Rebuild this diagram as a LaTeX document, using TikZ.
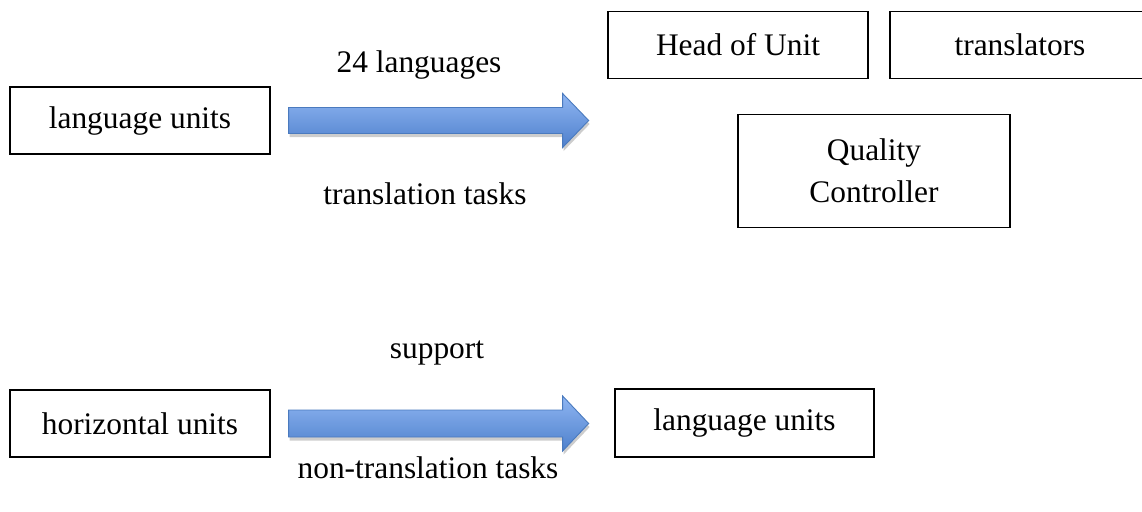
\documentclass[tikz,border=0pt]{standalone}
\usepackage{fontspec}
\setmainfont{Liberation Serif}
\usetikzlibrary{shadows}
\definecolor{arrowtop}{RGB}{143,182,242}
\definecolor{arrowbot}{RGB}{78,128,204}
\definecolor{arrowedge}{RGB}{74,122,190}
\begin{document}
\begin{tikzpicture}[x=1pt,y=-1pt,
  every node/.style={font=\fontsize{31.4}{42}\selectfont, inner sep=0pt},
  unitbox/.style={draw=black, line width=1.3pt, minimum width=260pt, minimum height=67pt, align=center},
  label/.style={anchor=base},
  blockarrow/.style={draw=arrowedge, line width=0.9pt, top color=arrowtop, bottom color=arrowbot,
    drop shadow={shadow xshift=1pt, shadow yshift=-3.5pt, opacity=0.28, fill=black!70}}]
\useasboundingbox (0,0) rectangle (1142,511);
\clip (0,0) rectangle (1142,511);

% upper row: translation work
\node[unitbox] (lang) at (140,120.5) {language units};
\node[unitbox] (head) at (738,45) {Head of Unit};
\node[unitbox, minimum width=300pt] (trans) at (1040,45) {\hspace*{-40pt}translators};
\node[unitbox, minimum width=272pt, minimum height=113pt] (qc) at (874,171) {Quality\\Controller};
\node[label] (langs) at (419,72) {24 languages};
\node[label] (ttasks) at (425,204) {translation tasks};

% lower row: support work
\node[unitbox] (horiz) at (140,423.5) {horizontal units};
\node[unitbox, minimum width=259pt, minimum height=68pt] (lang2) at (744.5,423) {language units};
\node[label] (supp) at (437,358) {support};
\node[label] (ntasks) at (428,478) {non-translation tasks};

% block arrows between the unit boxes
\coordinate (a1s) at ([xshift=18pt]lang.east);
\coordinate (a2s) at ([xshift=18pt]horiz.east);
\path[blockarrow] (a1s) ++(0,-13) -- ++(274,0) -- ++(0,-14) -- ++(26,27) -- ++(-26,27)
  -- ++(0,-14) -- ++(-274,0) -- cycle;
\path[blockarrow] (a2s) ++(0,-13.5) -- ++(274,0) -- ++(0,-14) -- ++(26,27.5) -- ++(-26,27.5)
  -- ++(0,-14) -- ++(-274,0) -- cycle;
\end{tikzpicture}
\end{document}
